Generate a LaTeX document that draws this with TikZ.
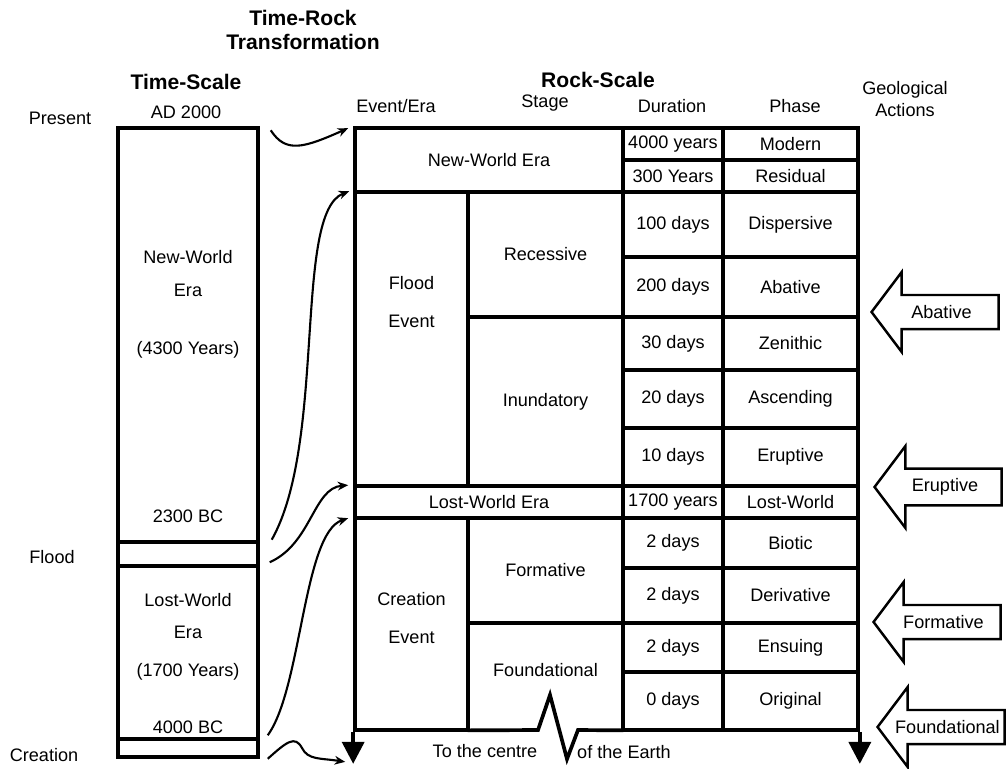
\documentclass[tikz,border=0pt]{standalone}
\usepackage{fontspec}
\setmainfont{Liberation Sans}
\usetikzlibrary{arrows.meta,positioning,shapes.arrows}

\begin{document}
\begin{tikzpicture}[x=0.02cm, y=-0.02cm,
    font=\fontsize{10.3}{12}\selectfont,
    ttl/.style={font=\fontsize{12}{13.6}\selectfont\bfseries, align=center},
    tbox/.style={draw, line width=2pt, minimum width=2.8cm, inner sep=0pt},
    cell/.style={draw, line width=2.1pt, inner sep=0pt, align=center},
    evcell/.style={cell, minimum width=2.26cm},
    stagecell/.style={cell, minimum width=3.1cm},
    durcell/.style={cell, minimum width=2cm},
    phasecell/.style={cell, minimum width=2.7cm},
    conn/.style={-{Stealth[length=6pt, width=5pt]}, line width=1.2pt},
    axis/.style={-{Triangle[length=0.44cm, width=0.44cm]}, line width=2.1pt},
    gact/.style={draw, single arrow, shape border rotate=180, line width=1.4pt,
                 minimum height=2.54cm, minimum width=1.6cm, inner xsep=1pt,
                 inner ysep=5pt, single arrow head extend=0.45cm,
                 single arrow tip angle=106, anchor=tip}
]
\useasboundingbox (0,0) rectangle (1006,768);

% headings
\node[ttl] (trt) at (303,30) {Time-Rock\\Transformation};
\node[ttl] (tsHead) at (186,82) {Time-Scale};
\node[ttl] (rsHead) at (598,80) {Rock-Scale};
\node (ad) at (186,112) {AD 2000};
\node (present) at (60,118) {Present};
\node (hEvent) at (396,106) {Event/Era};
\node (hStage) at (545,103) {Stage};
\node (hDur) at (672,106) {Duration};
\node (hPhase) at (795,106) {Phase};
\node[align=center] (hGeo) at (905,99) {Geological\\[0.7pt]Actions};

% time-scale column
\node[tbox, minimum height=8.28cm] (tNew) at (188,335) {};
\node[tbox, minimum height=0.48cm] (tFlood) at (188,554) {};
\node[tbox, minimum height=3.46cm] (tLost) at (188,652.5) {};
\node[tbox, minimum height=0.36cm] (tCreate) at (188,748) {};
\node (nwA) at (188,257) {New-World};
\node (nwB) at (188,290) {Era};
\node (nwC) at (188,350) {(4300 Years)};
\node (bc2300) at (188,516) {2300 BC};
\node (lwA) at (188,600) {Lost-World};
\node (lwB) at (188,632) {Era};
\node (lwC) at (188,672) {(1700 Years)};
\node (bc4000) at (188,727) {4000 BC};
\node (flood) at (52,557) {Flood};
\node (creat) at (44,755) {Creation};

% rock-scale table
\node[cell, minimum width=5.36cm, minimum height=1.28cm] (nwEra) at (489,160) {New-World Era};
\node[durcell, minimum height=0.64cm] (d4000) at (673,144) {4000 years};
\node[phasecell, minimum height=0.64cm] (pModern) at (790.5,144) {Modern};
\node[durcell, minimum height=0.64cm] (d300) at (673,176) {300 Years};
\node[phasecell, minimum height=0.64cm] (pResidual) at (790.5,176) {Residual};

\node[evcell, minimum height=5.88cm] (floodEv) at (411.5,339) {};
\node[align=center] (floodTxt) at (411.5,302) {Flood\\[10pt]Event};
\node[stagecell, minimum height=2.5cm] (recess) at (545.5,254.5) {Recessive};
\node[stagecell, minimum height=3.38cm] (inund) at (545.5,401.5) {Inundatory};
\node[durcell, minimum height=1.3cm] (d100) at (673,224.5) {100 days};
\node[phasecell, minimum height=1.3cm] (pDisp) at (790.5,224.5) {Dispersive};
\node[durcell, minimum height=1.2cm] (d200) at (673,287) {200 days};
\node[phasecell, minimum height=1.2cm] (pAbat) at (790.5,287) {Abative};
\node[durcell, minimum height=1.06cm] (d30) at (673,343.5) {30 days};
\node[phasecell, minimum height=1.06cm] (pZen) at (790.5,343.5) {Zenithic};
\node[durcell, minimum height=1.16cm] (d20) at (673,399) {20 days};
\node[phasecell, minimum height=1.16cm] (pAsc) at (790.5,399) {Ascending};
\node[durcell, minimum height=1.16cm] (d10) at (673,457) {10 days};
\node[phasecell, minimum height=1.16cm] (pErup) at (790.5,457) {Eruptive};

\node[cell, minimum width=5.36cm, minimum height=0.64cm] (lwEra) at (489,502) {Lost-World Era};
\node[durcell, minimum height=0.64cm] (d1700) at (673,502) {1700 years};
\node[phasecell, minimum height=0.64cm] (pLost) at (790.5,502) {Lost-World};

\node[evcell, minimum height=4.24cm] (creation) at (411.5,624) {};
\node[align=center] (creatTxt) at (411.5,618) {Creation\\[10pt]Event};
\node[stagecell, minimum height=2.1cm] (formative) at (545.5,570.5) {Formative};
\node[minimum width=3.1cm, minimum height=2.14cm, inner sep=0pt] (found) at (545.5,676.5) {};
\node (foundTxt) at (545.5,670) {Foundational};
\node[durcell, minimum height=1cm] (d2a) at (673,543) {2 days};
\node[phasecell, minimum height=1cm] (pBiotic) at (790.5,543) {Biotic};
\node[durcell, minimum height=1.1cm] (d2b) at (673,595.5) {2 days};
\node[phasecell, minimum height=1.1cm] (pDeriv) at (790.5,595.5) {Derivative};
\node[durcell, minimum height=0.98cm] (d2c) at (673,647.5) {2 days};
\node[phasecell, minimum height=0.98cm] (pEnsuing) at (790.5,647.5) {Ensuing};
\node[durcell, minimum height=1.16cm] (d0) at (673,701) {0 days};
\node[phasecell, minimum height=1.16cm] (pOrig) at (790.5,701) {Original};

% broken base line
\draw[line width=2.1pt] (found.south west) -- (538,730) -- (550,695) -- (567,759)
    -- (578,730) -- (found.south east);
\draw[axis] (creation.south west) -- ++(0,32);
\draw[axis] (pOrig.south east) -- ++(0,32);
\node (centreA) at (485,751) {To the centre};
\node (centreB) at (624,752) {of the Earth};

% time to rock links
\draw[conn] ([shift={(11,4)}]tNew.north east) .. controls +(15,23) and +(-45,20)
    .. ([shift={(-5,2)}]nwEra.north west);
\draw[conn] ([shift={(12,-4)}]tNew.south east) .. controls +(55,-98) and +(-56,22)
    .. ([shift={(-4,1)}]floodEv.north west);
\draw[conn] ([shift={(10,-2)}]tLost.north east) .. controls +(42,-19) and +(-35,3)
    .. ([shift={(-5,1)}]lwEra.north west);
\draw[conn] ([shift={(8,-2)}]tCreate.north east) .. controls +(34,-47) and +(-45,15)
    .. ([shift={(-5,2)}]creation.north west);
\draw[conn] ([shift={(8,0)}]tCreate.south east) .. controls +(19,-17) and +(-7,-13)
    .. (302,748) .. controls (308,760) and (320,758) .. ([shift={(-8,30)}]creation.south west);

% geological actions
\node[gact] (gAbative) at (870,312) {Abative};
\node[gact] (gEruptive) at (873,487) {Eruptive};
\node[gact] (gFormative) at (872,622) {Formative};
\node[gact] (gFound) at (876,727) {Foundational};
\end{tikzpicture}
\end{document}
